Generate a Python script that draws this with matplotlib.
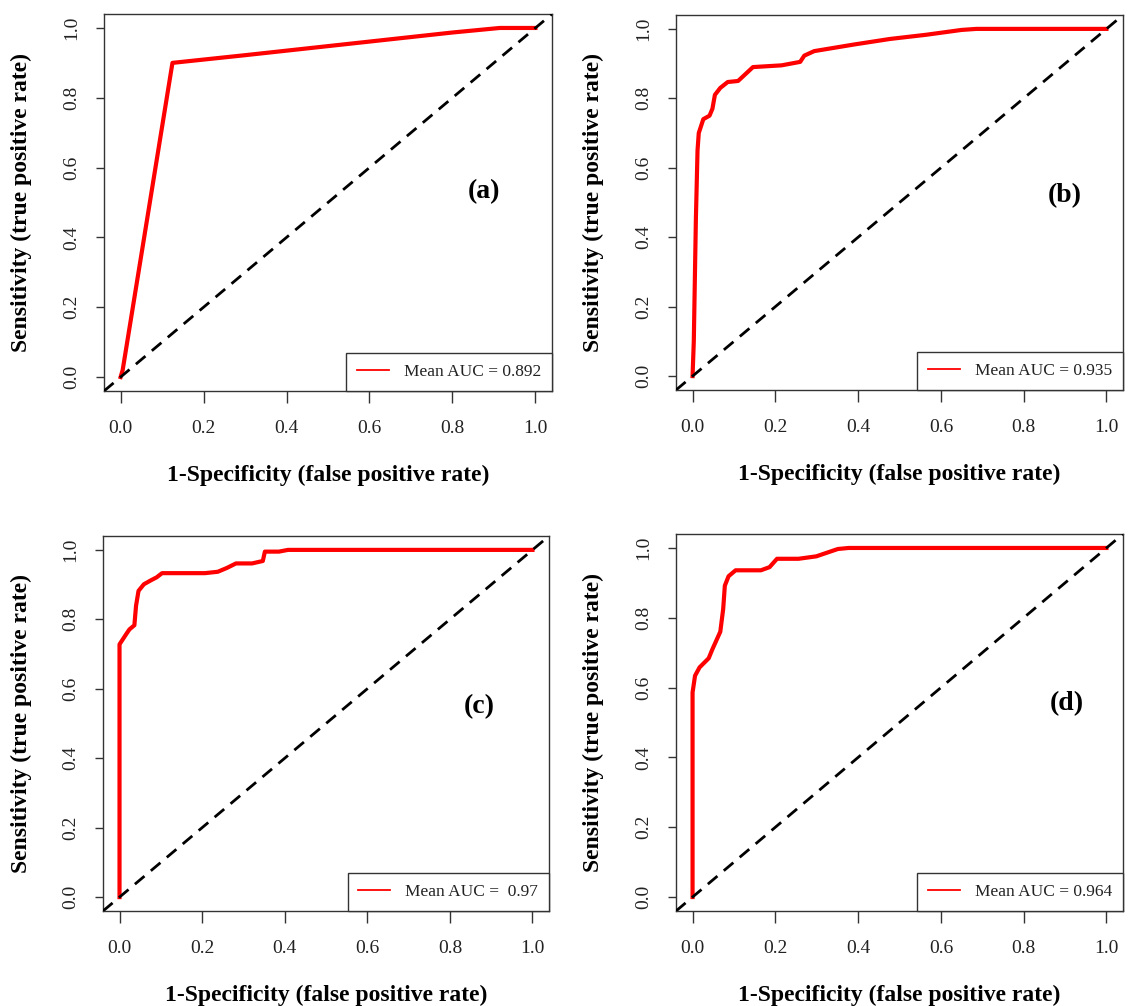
import matplotlib
matplotlib.use("Agg")
import matplotlib.pyplot as plt
from matplotlib.lines import Line2D
from matplotlib.ticker import FormatStrFormatter

plt.rcParams['font.family'] = ['Liberation Serif', 'DejaVu Serif']

# ---- data ----
fpr_a = [0.0, 0.005, 0.125, 0.30, 0.60, 0.80, 0.914, 1.0]
tpr_a = [0.0, 0.02, 0.90, 0.922, 0.961, 0.987, 1.0, 1.0]

fpr_b = [0.0, 0.003, 0.008, 0.012, 0.015, 0.026, 0.041, 0.048, 0.054, 0.067, 0.085,
         0.11, 0.128, 0.146, 0.215, 0.26, 0.27, 0.294, 0.39, 0.477, 0.564, 0.65, 0.686, 1.0]
tpr_b = [0.0, 0.10, 0.45, 0.65, 0.70, 0.74, 0.75, 0.77, 0.81, 0.83, 0.847,
         0.85, 0.87, 0.89, 0.895, 0.905, 0.923, 0.936, 0.955, 0.971, 0.983, 0.997, 1.0, 1.0]

fpr_c = [0.0, 0.0, 0.016, 0.024, 0.036, 0.040, 0.046, 0.059, 0.077, 0.090, 0.103,
         0.207, 0.238, 0.26, 0.282, 0.321, 0.347, 0.352, 0.386, 0.408, 1.0]
tpr_c = [0.0, 0.728, 0.757, 0.771, 0.783, 0.839, 0.882, 0.901, 0.913, 0.921, 0.933,
         0.933, 0.937, 0.948, 0.961, 0.961, 0.968, 0.995, 0.995, 1.0, 1.0]

fpr_d = [0.0, 0.0, 0.006, 0.017, 0.039, 0.048, 0.067, 0.074, 0.078, 0.087, 0.104,
         0.165, 0.186, 0.204, 0.256, 0.299, 0.351, 0.377, 1.0]
tpr_d = [0.0, 0.586, 0.634, 0.658, 0.684, 0.710, 0.760, 0.825, 0.892, 0.919, 0.936,
         0.936, 0.945, 0.969, 0.969, 0.976, 0.997, 1.0, 1.0]

panel_tags = ["(a)", "(b)", "(c)", "(d)"]
auc_labels = ["Mean AUC = 0.892", "Mean AUC = 0.935", "Mean AUC =  0.97", "Mean AUC = 0.964"]
tag_pos = [(0.875, 0.53), (0.90, 0.52), (0.87, 0.55), (0.905, 0.555)]
ticks = [0.0, 0.2, 0.4, 0.6, 0.8, 1.0]
xlabel = "1-Specificity (false positive rate)"
ylabel = "Sensitivity (true positive rate)"

W, H = 1130, 1006
fig = plt.figure(figsize=(W / 100, H / 100), dpi=100)

# axes boxes in pixel coords: left, right, top, bottom
boxes = [(104, 552, 14, 391), (676, 1123, 15, 390), (103, 549, 536, 911), (676, 1123, 534, 911)]
curves = [(fpr_a, tpr_a), (fpr_b, tpr_b), (fpr_c, tpr_c), (fpr_d, tpr_d)]

edge = '#333333'
for i, (l, r, t, b) in enumerate(boxes):
    ax = fig.add_axes([l / W, 1 - b / H, (r - l) / W, (b - t) / H])
    fx, ty = curves[i]
    ax.plot(fx, ty, color='#ff0000', lw=3.0, solid_joinstyle='round', zorder=2)
    ax.axline((0, 0), slope=1, color='black', lw=2.0, ls=(0, (4.5, 3.0)), zorder=3)
    ax.set_xlim(-0.04, 1.04)
    ax.set_ylim(-0.04, 1.04)
    ax.set_xticks(ticks)
    ax.set_yticks(ticks)
    ax.xaxis.set_major_formatter(FormatStrFormatter('%.1f'))
    ax.yaxis.set_major_formatter(FormatStrFormatter('%.1f'))
    ax.tick_params(axis='both', direction='out', width=1, color=edge,
                   labelsize=14, labelcolor='#222222')
    ax.tick_params(axis='x', length=8.5, pad=12.7)
    ax.tick_params(axis='y', length=5.5, pad=11.5, labelrotation=90)
    for lab in ax.get_yticklabels():
        lab.set_va('center')
    for sp in ax.spines.values():
        sp.set_color(edge)
        sp.set_linewidth(1.0)
    ax.set_xlabel(xlabel, fontsize=17, fontweight='bold', va='center')
    ax.set_ylabel(ylabel, fontsize=17, fontweight='bold', va='center')
    ax.xaxis.set_label_coords(0.5, -0.225)
    ax.yaxis.set_label_coords(-0.184, 0.5)
    ax.text(tag_pos[i][0], tag_pos[i][1], panel_tags[i], fontsize=20, fontweight='bold',
            ha='center', va='center', transform=ax.transData)
    handle = Line2D([], [], color='#ff0000', lw=1.3)
    leg = ax.legend([handle], [auc_labels[i]], loc='lower right', borderaxespad=0,
                    fancybox=False, framealpha=1, edgecolor=edge, fontsize=12.5,
                    borderpad=0.62, handlelength=1.84, handletextpad=0.86)
    leg.get_frame().set_linewidth(1.0)
    leg.set_zorder(5)
    for txt in leg.get_texts():
        txt.set_color('#222222')

fig.savefig("out.png", dpi=100)
